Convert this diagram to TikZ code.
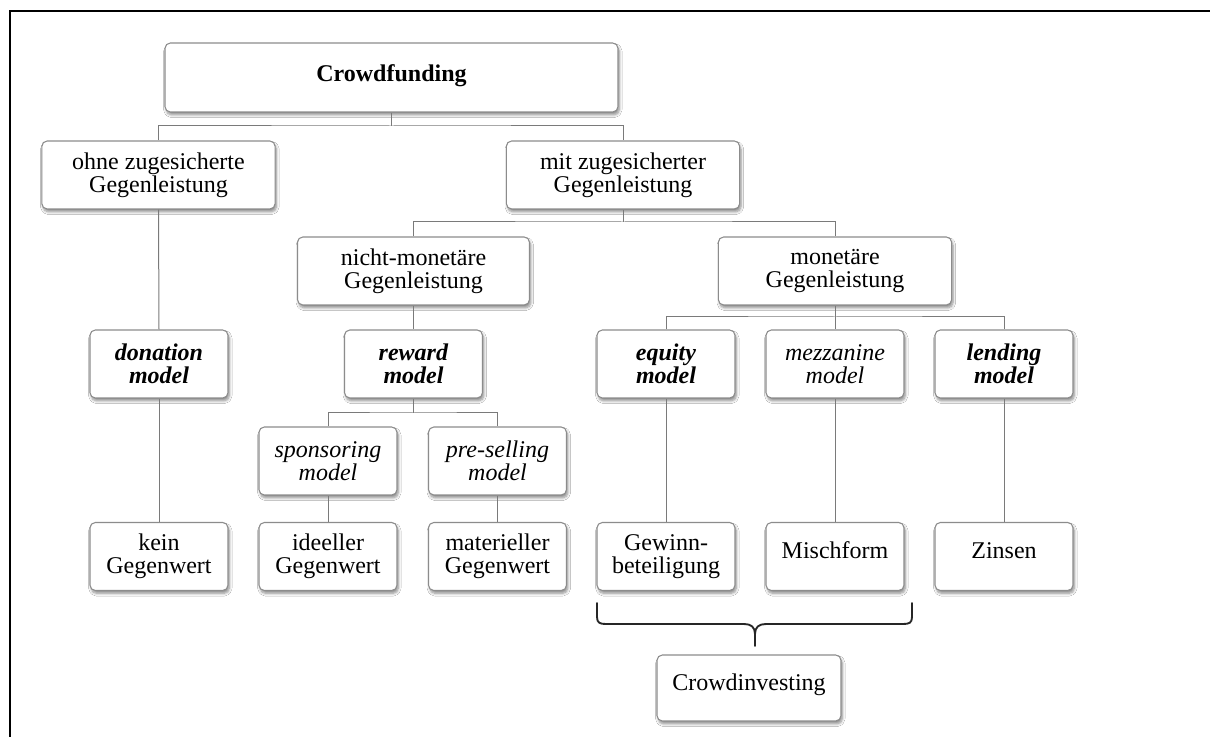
\documentclass[tikz,border=0pt]{standalone}
\usepackage{fontspec}
\setmainfont{Liberation Serif}
\usetikzlibrary{shadows.blur}
\definecolor{boxgray}{HTML}{8C8C8C}
\definecolor{linegray}{HTML}{7A7A7A}
\tikzset{
  box/.style={draw=boxgray, line width=0.8pt, rounded corners=4pt, fill=white,
    align=center, inner sep=0pt, text=black,
    font=\fontsize{18}{17.5}\selectfont,
    blur shadow={shadow xshift=1pt, shadow yshift=-2.2pt, shadow blur steps=6,
      shadow blur radius=2pt, shadow opacity=45}},
  wide/.style={box, minimum width=175pt, minimum height=51pt},
  small/.style={box, minimum width=103.5pt, minimum height=51pt},
  conn/.style={draw=linegray, line width=0.75pt},
  frameline/.style={draw=black, line width=1.5pt},
  bracket/.style={draw=black!85, line width=1.4pt, line cap=round, line join=round}
}
\begin{document}
\begin{tikzpicture}[x=0.75pt, y=-0.75pt]
\useasboundingbox (0,0) rectangle (1210,737);
\fill[white] (0,0) rectangle (1210,737);
% frame (top and left edges)
\draw[frameline] (10,737) -- (10,11) -- (1210,11);

% level 0
\node[box, minimum width=339.75pt, minimum height=51.75pt] (cf) at (391.5,77.5) {\raisebox{6pt}{\textbf{Crowdfunding}}};
% level 1
\node[wide] (ohne) at (158.5,175) {ohne zugesicherte\\Gegenleistung};
\node[wide] (mit) at (623,175) {mit zugesicherter\\Gegenleistung};
% level 2
\node[wide, minimum width=174pt] (nicht) at (413.5,271) {nicht-monetäre\\Gegenleistung};
\node[wide] (mon) at (835,271) {monetäre\\Gegenleistung};
% level 3: models
\node[small] (don) at (159,364) {\textbf{\textit{donation}}\\\textbf{\textit{model}}};
\node[small] (rew) at (413.5,364) {\textbf{\textit{reward}}\\\textbf{\textit{model}}};
\node[small] (eq) at (666,364) {\textbf{\textit{equity}}\\\textbf{\textit{model}}};
\node[small] (mez) at (835,364) {\textit{mezzanine}\\\textit{model}};
\node[small] (lend) at (1004,364) {\textbf{\textit{lending}}\\\textbf{\textit{model}}};
% level 4
\node[small] (spons) at (328,461) {\textit{sponsoring}\\\textit{model}};
\node[small] (pre) at (497.5,461) {\textit{pre-selling}\\\textit{model}};
% bottom row
\node[small] (kein) at (159,556.5) {kein\\Gegenwert};
\node[small] (ideel) at (328,556.5) {ideeller\\Gegenwert};
\node[small] (mater) at (497.5,556.5) {materieller\\Gegenwert};
\node[small] (gew) at (666,556.5) {Gewinn-\\beteiligung};
\node[small] (misch) at (835,556.5) {\raisebox{9pt}{Mischform}};
\node[small] (zins) at (1004,556.5) {\raisebox{9pt}{Zinsen}};
\node[box, minimum width=138pt, minimum height=49.5pt] (ci) at (749,688) {\raisebox{9pt}{Crowdinvesting}};

% bus coordinates
\coordinate (b1) at (391.5,126);
\coordinate (b2) at (623,222);
\coordinate (b3) at (835,317);
\coordinate (b4) at (413.5,413);

% connectors
\draw[conn] (cf.south) -- (b1);
\draw[conn] (ohne.north) |- (b1) -| (mit.north);
\draw[conn] (mit.south) -- (b2);
\draw[conn] (nicht.north) |- (b2) -| (mon.north);
\draw[conn] (mon.south) -- (mez.north);
\draw[conn] (eq.north) |- (b3) -| (lend.north);
\draw[conn] (nicht.south) -- (rew.north);
\draw[conn] (rew.south) -- (b4);
\draw[conn] (spons.north) |- (b4) -| (pre.north);
\draw[conn] (ohne.south) -- (don.north);
\draw[conn] (don.south) -- (kein.north);
\draw[conn] (spons.south) -- (ideel.north);
\draw[conn] (pre.south) -- (mater.north);
\draw[conn] (eq.south) -- (gew.north);
\draw[conn] (mez.south) -- (misch.north);
\draw[conn] (lend.south) -- (zins.north);

% curly bracket under Gewinnbeteiligung and Mischform
\draw[bracket] (597,603) -- (597,617) .. controls (597,623) and (600,624) .. (606,624)
  -- (744,624) .. controls (751,624) and (755,627) .. (755,634) -- (755,646);
\draw[bracket] (912,603) -- (912,617) .. controls (912,623) and (909,624) .. (903,624)
  -- (766,624) .. controls (759,624) and (755,627) .. (755,634);
\end{tikzpicture}
\end{document}
